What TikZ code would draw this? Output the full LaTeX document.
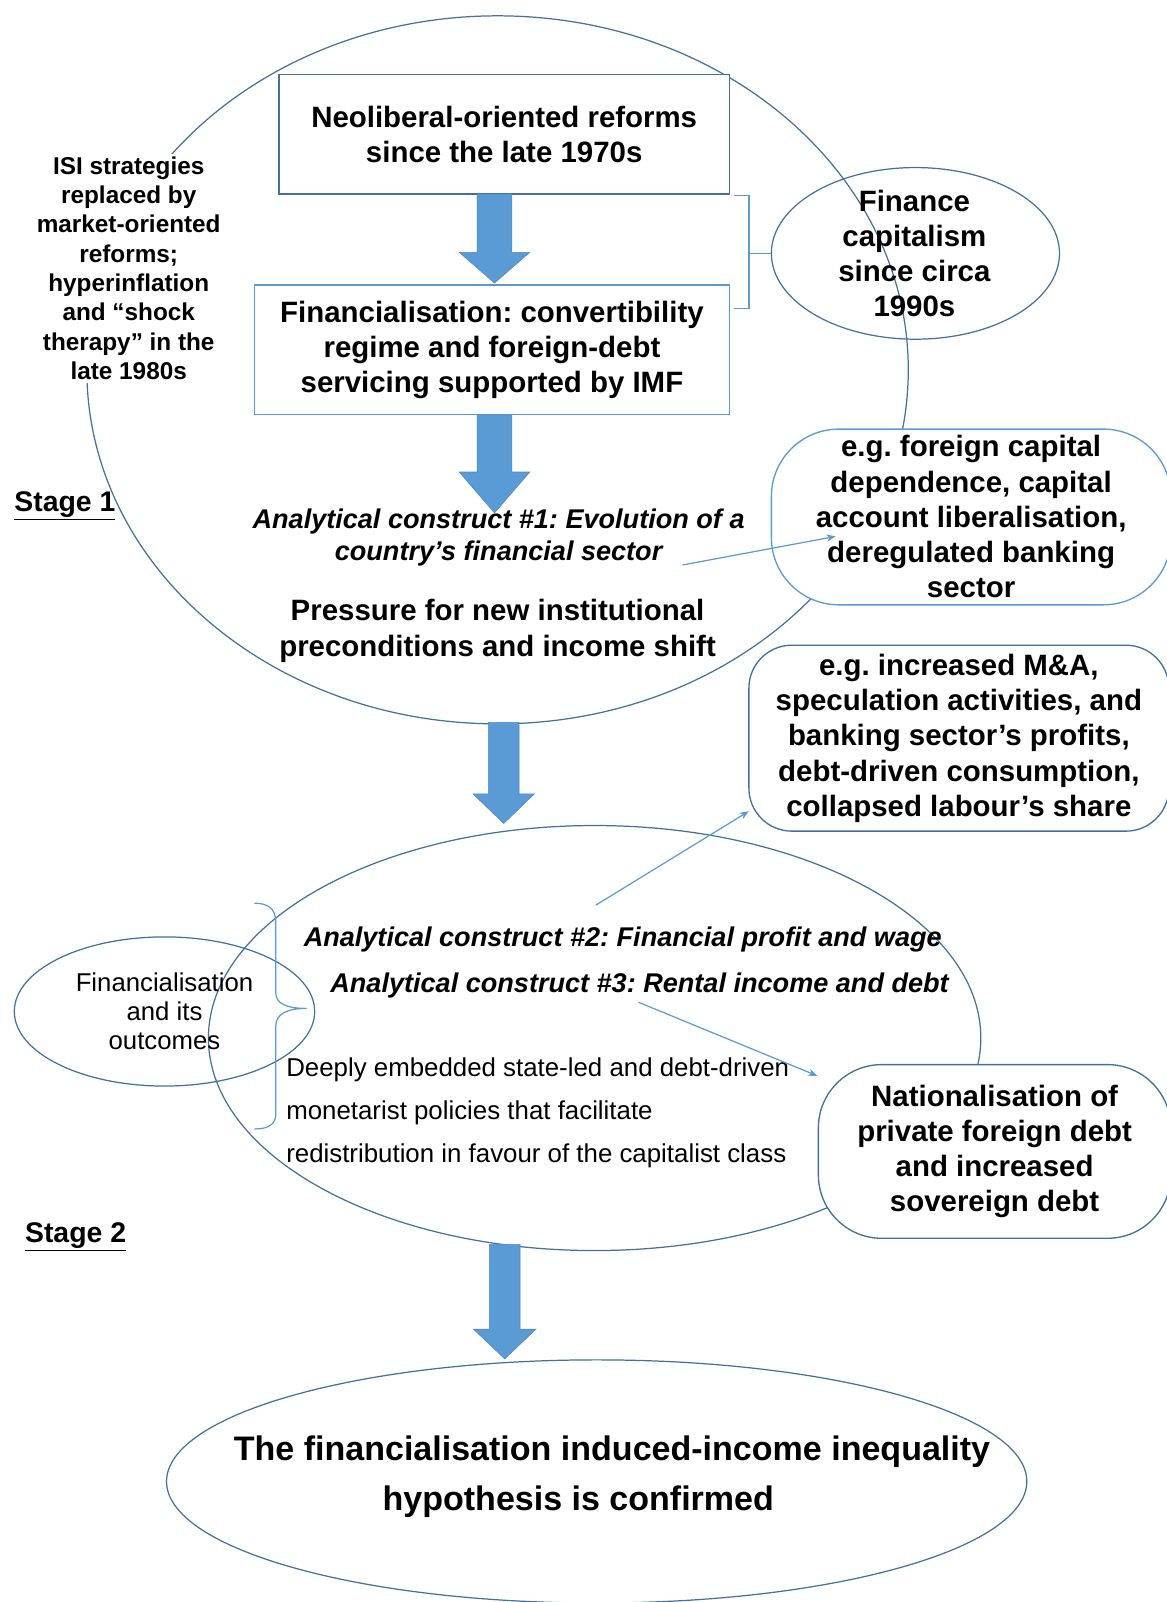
\documentclass[tikz,border=0pt]{standalone}
\usepackage{fontspec}
\setmainfont{Liberation Sans}
\usetikzlibrary{shapes.geometric,calc,arrows.meta}
\frenchspacing

\definecolor{edgedark}{HTML}{41719C}
\definecolor{edgelight}{HTML}{5B9BD5}
\definecolor{arrowfill}{HTML}{5B9BD5}
\definecolor{arrowedge}{HTML}{4F89C2}

% Thick downward block arrow: #1 start, #2 tip, #3 half shaft width,
% #4 half head width, #5 head length
\newcommand\blockarrow[5]{%
  \path[bigarrow] let \p1=(#1), \p2=(#2) in
    (\x1-#3pt,\y1) -- (\x1+#3pt,\y1) -- (\x1+#3pt,\y2+#5pt) -- (\x1+#4pt,\y2+#5pt)
    -- (\x1,\y2) -- (\x1-#4pt,\y2+#5pt) -- (\x1-#3pt,\y2+#5pt) -- cycle;}

\begin{document}
\begin{tikzpicture}[x=1pt,y=-1pt,
  darkline/.style={draw=edgedark,line width=1.3pt},
  lightline/.style={draw=edgelight,line width=1.3pt},
  bigarrow/.style={fill=arrowfill,draw=arrowedge,line width=0.6pt},
  linkarrow/.style={draw=edgelight,line width=1.2pt,-{Stealth[length=9pt,width=7pt]}},
  mainbold/.style={font=\fontsize{28.8pt}{34.5pt}\selectfont\bfseries,align=center,inner sep=0pt},
  sidebold/.style={font=\fontsize{23.8pt}{28.7pt}\selectfont\bfseries,align=center},
  construct/.style={font=\fontsize{26.5pt}{31pt}\selectfont\bfseries\itshape,align=center,inner sep=0pt},
  policytext/.style={font=\fontsize{25.3pt}{42pt}\selectfont,align=left,inner sep=0pt},
  smallplain/.style={font=\fontsize{25.2pt}{28.5pt}\selectfont,align=center,inner sep=0pt},
  stagelabel/.style={font=\fontsize{27.8pt}{30pt}\selectfont\bfseries,inner sep=0pt,anchor=base},
  conclusion/.style={font=\fontsize{33.3pt}{40pt}\selectfont\bfseries,inner sep=0pt,anchor=base},
  oval/.style={ellipse,inner sep=0pt},
]
\fill[white] (0,0) rectangle (1142,1568);
\useasboundingbox (0,0) rectangle (1142,1568);

% ---------- Stage 1 ----------
\node[oval,darkline,line width=1.2pt,minimum width=804,minimum height=693] (stageone) at (487,362) {};
\node[oval,darkline,line width=1.2pt,minimum width=282,minimum height=168] (fincapoval) at (896,248) {};
\node[mainbold] (fincap) at (895,248) {Finance\\capitalism\\since circa\\1990s};

\node[rectangle,darkline,fill=white,mainbold,minimum width=441,minimum height=117] (neo) at (493.5,131.5)
  {Neoliberal-oriented reforms\\since the late 1970s};
\node[rectangle,lightline,fill=white,mainbold,minimum width=465,minimum height=127] (finreg) at (481.5,342.5)
  {Financialisation: convertibility\\regime and foreign-debt\\servicing supported by IMF};

\node[sidebold,fill=white,inner sep=3pt] (isi) at (126,262.5)
  {ISI strategies\\replaced by\\market-oriented\\reforms;\\hyperinflation\\and “shock\\therapy” in the\\late 1980s};

\node[rectangle,rounded corners=66pt,lightline,fill=white,mainbold,minimum width=391,minimum height=172] (fcdep) at (950.5,506)
  {e.g. foreign capital\\dependence, capital\\account liberalisation,\\deregulated banking\\sector};

\node[rectangle,rounded corners=42pt,darkline,fill=white,mainbold,minimum width=411,minimum height=182] (mna) at (938.5,722.5)
  {e.g. increased M\&A,\\speculation activities, and\\banking sector’s profits,\\debt-driven consumption,\\collapsed labour’s share};

% bracket joining the two reform boxes to the finance-capitalism oval
\draw[lightline,line width=1.2pt] (718,191) -- (733,191) -- (733,302) -- (718,302);
\coordinate (brk) at (733,248);
\draw[lightline,line width=1.2pt] (brk) -- (fincapoval.west);

\node[construct] (ac1) at (488,526) {Analytical construct \#1: Evolution of a\\country’s financial sector};
\node[mainbold] (pressure) at (487,617.5) {Pressure for new institutional\\preconditions and income shift};

\node[stagelabel] (stage1lbl) at (63.5,501) {\underline{Stage 1}};

% ---------- Stage 2 ----------
\node[oval,darkline,line width=1.2pt,minimum width=756,minimum height=416] (stagetwo) at (582,1016) {};
\node[oval,darkline,line width=1.2pt,minimum width=294,minimum height=146] (outcomeoval) at (161,990) {};
\node[smallplain] (outcome) at (161,989.5) {Financialisation\\and its\\outcomes};

% right brace gathering the stage-2 constructs
\draw[lightline,line width=1.2pt] (249,884) .. controls (262,884) and (270,889) .. (270,903)
  -- (270,972) .. controls (270,982) and (280,987) .. (300,987)
  .. controls (280,987) and (270,993) .. (270,1004)
  -- (270,1090) .. controls (270,1101) and (262,1105) .. (249,1105);

\node[rectangle,rounded corners=62pt,darkline,fill=white,mainbold,minimum width=345,minimum height=170] (natdebt) at (973.5,1127)
  {Nationalisation of\\private foreign debt\\and increased\\sovereign debt};

\node[construct,anchor=base] (ac2) at (609.5,926.5) {Analytical construct \#2: Financial profit and wage};
\node[construct,anchor=base] (ac3) at (626,971.5) {Analytical construct \#3: Rental income and debt};
\node[policytext,anchor=west] (policy) at (280,1089.5)
  {Deeply embedded state-led and debt-driven\\monetarist policies that facilitate\\redistribution in favour of the capitalist class};

\node[stagelabel] (stage2lbl) at (74,1216) {\underline{Stage 2}};

% ---------- Conclusion ----------
\node[oval,darkline,line width=1.2pt,minimum width=842,minimum height=238] (finaloval) at (584,1450) {};
\node[conclusion] (concl1) at (599,1429) {The financialisation induced-income inequality};
\node[conclusion] (concl2) at (566,1478) {hypothesis is confirmed};

% ---------- block arrows ----------
\coordinate (a1s) at (484,190);  \coordinate (a1e) at (484,277);
\coordinate (a2s) at (484,406);  \coordinate (a2e) at (484,502);
\coordinate (a3s) at (493,707);  \coordinate (a3e) at (493,806);
\coordinate (a4s) at (494,1218); \coordinate (a4e) at (494,1330);
\blockarrow{a1s}{a1e}{17}{34.5}{30}
\blockarrow{a2s}{a2e}{17}{34.5}{40}
\blockarrow{a3s}{a3e}{15}{30}{29}
\blockarrow{a4s}{a4e}{15}{30.5}{29}

% ---------- thin links ----------
\coordinate (l1s) at (668,553);  \coordinate (l1e) at (818,525);
\coordinate (l2s) at (583,886);  \coordinate (l2e) at (733,794);
\coordinate (l3s) at (625,981);  \coordinate (l3e) at (800,1053);
\draw[linkarrow] (l1s) -- (l1e);
\draw[linkarrow] (l2s) -- (l2e);
\draw[linkarrow] (l3s) -- (l3e);
\end{tikzpicture}
\end{document}
